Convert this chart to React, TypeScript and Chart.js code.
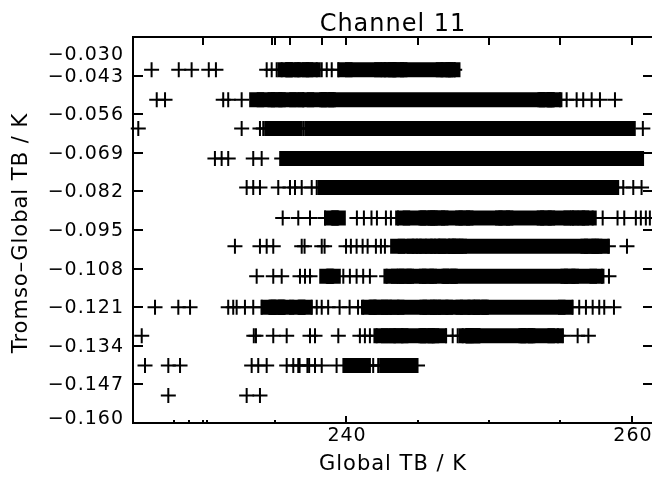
import React, { useEffect, useRef } from "react";
import { Chart, registerables } from "chart.js";

Chart.register(...registerables);

// Row levels (Tromso - Global TB, K)
const rowY = [-0.041, -0.0511, -0.0608, -0.0709, -0.0807, -0.091, -0.1005, -0.1106, -0.121, -0.1306, -0.1406, -0.1507];

// Individual measurements per row (Global TB, K)
const crosses01 = [226.4, 228.3, 229.2, 230.4, 230.9, 234.45, 234.8, 235.15, 235.5, 236.66, 237.95, 238.3, 238.65, 239.0, 239.46, 242.72, 247.6];
const crosses02 = [226.76, 227.34, 231.41, 231.76, 232.7, 236.66, 237.01, 254.96, 255.43, 256.13, 256.59, 257.18, 257.76, 258.81];
const crosses03 = [225.47, 232.7, 233.98, 234.21, 234.56, 235.61, 236.66, 237.01, 237.36, 239.81, 240.04, 260.76];
const crosses04 = [230.83, 231.3, 231.76, 233.51, 234.1, 235.5, 237.83];
const crosses05 = [233.05, 233.51, 233.98, 235.26, 236.08, 236.43, 236.9, 237.6, 237.95, 258.93, 259.39, 260.09, 260.67];
const crosses06 = [235.57, 236.66, 237.48, 238.53, 240.76, 241.25, 241.78, 242.16, 242.79, 243.14, 243.63, 255.87, 257.25, 257.95, 258.99, 259.46, 260.27, 260.62, 260.97, 261.25];
const crosses07 = [232.23, 233.98, 234.45, 234.91, 236.9, 237.1, 238.3, 238.5, 240.0, 240.34, 240.74, 241.16, 241.51, 242.09, 242.44, 242.72, 244.96, 246.22, 247.2, 258.35, 259.65];
const crosses08 = [233.75, 234.91, 235.5, 236.78, 237.13, 237.48, 239.81, 240.27, 240.74, 241.2, 241.67, 242.84, 257.9, 258.39];
const crosses09 = [226.64, 228.27, 229.09, 231.76, 232.11, 232.35, 232.93, 233.51, 234.1, 236.08, 236.31, 237.6, 237.95, 238.3, 238.75, 239.55, 240.25, 240.84, 241.2, 255.85, 256.31, 256.78, 257.25, 257.71, 258.06, 258.74];
const crosses10 = [225.71, 233.55, 233.7, 234.91, 235.85, 237.48, 237.83, 239.46, 240.97, 241.32, 241.67, 242.14, 247.0, 247.46, 247.81, 248.16, 254.82, 255.17, 256.2, 256.95];
const crosses11 = [225.94, 227.57, 228.39, 233.4, 233.86, 234.45, 235.85, 236.31, 236.66, 236.75, 237.3, 237.42, 237.83, 238.3, 239.34, 241.32, 241.67, 241.9, 242.25, 242.49, 242.72, 245.0];
const crosses12 = [227.57, 233.05, 233.98];

// Densely packed runs of measurements per row: [from, to] in K
const blocks01 = [[235.73, 236.31], [236.9, 237.71], [239.93, 242.49], [242.95, 243.54], [243.77, 246.8], [247.13, 247.48]];
const blocks02 = [[233.75, 235.03], [235.26, 236.55], [237.25, 238.65], [238.76, 253.91], [254.03, 254.61]];
const blocks03 = [[234.8, 235.26], [235.85, 236.43], [237.6, 238.18], [238.3, 239.65], [240.22, 245.4], [245.64, 259.74]];
const blocks04 = [[235.85, 236.31], [236.66, 237.48], [238.06, 239.6], [239.81, 259.74], [259.86, 260.32]];
const blocks05 = [[238.53, 239.23], [239.46, 240.16], [240.51, 241.2], [241.55, 242.02], [242.25, 242.84], [242.95, 252.74], [252.98, 258.58]];
const blocks06 = [[239.0, 239.46], [243.96, 245.59], [245.71, 246.41], [246.64, 248.16], [248.39, 250.95], [251.18, 253.86], [254.1, 255.73], [256.2, 257.01]];
const blocks07 = [[243.61, 244.77], [245.12, 246.06], [246.41, 246.99], [247.46, 247.69], [247.93, 256.92], [257.16, 257.93]];
const blocks08 = [[238.65, 239.11], [243.14, 244.07], [244.23, 245.62], [245.83, 247.2], [247.3, 255.52], [255.76, 257.55]];
const blocks09 = [[234.56, 235.15], [235.26, 235.73], [236.66, 237.13], [241.57, 242.16], [242.44, 243.21], [243.56, 245.66], [245.87, 246.64], [246.95, 248.18], [248.49, 249.37], [249.47, 255.35]];
const blocks10 = [[242.44, 243.49], [243.84, 245.59], [245.71, 246.52], [248.39, 248.86], [248.88, 252.58], [252.72, 254.61]];
const blocks11 = [[240.27, 241.09], [242.84, 243.89], [244.05, 244.47]];
const blocks12: number[][] = [];

// Axis ticks
const yTickValues = [-0.03, -0.043, -0.056, -0.069, -0.082, -0.095, -0.108, -0.121, -0.134, -0.147, -0.16];
const yTickLabels = ["−0.030", "−0.043", "−0.056", "−0.069", "−0.082", "−0.095", "−0.108", "−0.121", "−0.134", "−0.147", "−0.160"];
const xMajorTicks = [240, 260];
const xMajorLabels = ["240", "260"];
const xMinorTicks = [230, 235, 245, 250, 255];
const xBottomExtraTicks = [228.0, 229.0, 230.3];
const xTopExtraTicks = [234.8, 236.1, 238.3];

const titleText = "Channel 11";
const xTitleText = "Global TB / K";
const yTitleText = "Tromso–Global TB / K";

const FONT = "'DejaVu Sans', sans-serif";

const rows = [
  { y: rowY[0], crosses: crosses01, blocks: blocks01 },
  { y: rowY[1], crosses: crosses02, blocks: blocks02 },
  { y: rowY[2], crosses: crosses03, blocks: blocks03 },
  { y: rowY[3], crosses: crosses04, blocks: blocks04 },
  { y: rowY[4], crosses: crosses05, blocks: blocks05 },
  { y: rowY[5], crosses: crosses06, blocks: blocks06 },
  { y: rowY[6], crosses: crosses07, blocks: blocks07 },
  { y: rowY[7], crosses: crosses08, blocks: blocks08 },
  { y: rowY[8], crosses: crosses09, blocks: blocks09 },
  { y: rowY[9], crosses: crosses10, blocks: blocks10 },
  { y: rowY[10], crosses: crosses11, blocks: blocks11 },
  { y: rowY[11], crosses: crosses12, blocks: blocks12 },
];

const axesPlugin = {
  id: "idlAxes",
  beforeDraw(chart: any) {
    const ctx = chart.ctx;
    ctx.save();
    ctx.fillStyle = "#fff";
    ctx.fillRect(0, 0, chart.width, chart.height);
    ctx.restore();
  },
  afterDraw(chart: any) {
    const ctx = chart.ctx as CanvasRenderingContext2D;
    const { left, top, right, bottom } = chart.chartArea;
    const xs = chart.scales.x;
    const ys = chart.scales.y;
    ctx.save();
    ctx.strokeStyle = "#000";
    ctx.fillStyle = "#000";
    ctx.lineWidth = 2;
    ctx.beginPath();
    ctx.moveTo(left, top - 1);
    ctx.lineTo(left, bottom + 1);
    ctx.moveTo(left - 1, top);
    ctx.lineTo(right, top);
    ctx.moveTo(left - 1, bottom);
    ctx.lineTo(right, bottom);
    ctx.stroke();

    // y ticks (left and right sides)
    ctx.beginPath();
    yTickValues.forEach((v) => {
      const py = Math.round(ys.getPixelForValue(v));
      ctx.moveTo(left, py);
      ctx.lineTo(left + 10, py);
      ctx.moveTo(right - 9, py);
      ctx.lineTo(right, py);
    });
    // x ticks bottom
    xMajorTicks.forEach((v) => {
      const px = Math.round(xs.getPixelForValue(v));
      ctx.moveTo(px, bottom);
      ctx.lineTo(px, bottom - 7);
    });
    [...xMinorTicks, ...xBottomExtraTicks].forEach((v) => {
      const px = Math.round(xs.getPixelForValue(v));
      ctx.moveTo(px, bottom);
      ctx.lineTo(px, bottom - 3);
    });
    // x ticks top
    [...xMajorTicks, ...xMinorTicks, ...xTopExtraTicks].forEach((v) => {
      const px = Math.round(xs.getPixelForValue(v));
      ctx.moveTo(px, top);
      ctx.lineTo(px, top + 8);
    });
    ctx.stroke();

    // texts
    (ctx as any).letterSpacing = "1px";
    ctx.font = `19px ${FONT}`;
    ctx.textAlign = "right";
    ctx.textBaseline = "middle";
    yTickValues.forEach((v, i) => {
      let py = ys.getPixelForValue(v) + 1;
      if (i === 0) py = top + 18;
      if (i === yTickValues.length - 1) py = bottom - 4;
      ctx.fillText(yTickLabels[i], left - 9, py);
    });
    ctx.textAlign = "center";
    xMajorTicks.forEach((v, i) => {
      const px = xs.getPixelForValue(v);
      ctx.fillText(xMajorLabels[i], px + 1, bottom + 13);
    });
    ctx.font = `21px ${FONT}`;
    ctx.fillText(xTitleText, 393, bottom + 42);
    ctx.save();
    ctx.translate(22, 233);
    ctx.rotate(-Math.PI / 2);
    ctx.fillText(yTitleText, 0, 0);
    ctx.restore();
    ctx.font = `24px ${FONT}`;
    ctx.textBaseline = "alphabetic";
    ctx.fillText(titleText, 393, 31);
    ctx.restore();
  },
};

export default function App() {
  const canvasRef = useRef<HTMLCanvasElement | null>(null);

  useEffect(() => {
    if (!canvasRef.current) return;
    const crossData = rows.flatMap((r) => r.crosses.map((x) => ({ x, y: r.y })));
    const blockData: any[] = [];
    rows.forEach((r) => {
      r.blocks.forEach(([a, b]) => {
        blockData.push({ x: a, y: r.y });
        blockData.push({ x: b, y: r.y });
        blockData.push({ x: b, y: null });
      });
    });

    const chart = new Chart(canvasRef.current, {
      type: "scatter",
      data: {
        datasets: [
          {
            label: "measurements",
            data: crossData,
            showLine: false,
            clip: false,
          } as any,
          {
            label: "dense runs",
            data: blockData,
            showLine: true,
            spanGaps: false,
            borderColor: "#000",
            borderWidth: 15,
            borderCapStyle: "butt",
            tension: 0,
            clip: false,
          } as any,
        ],
      },
      options: {
        responsive: false,
        animation: false,
        events: [],
        devicePixelRatio: 1,
        layout: { autoPadding: false, padding: { left: 133, top: 37, right: 0, bottom: 58 } },
        elements: {
          point: {
            pointStyle: "cross",
            radius: 7.5,
            borderWidth: 2,
            borderColor: "#000",
            backgroundColor: "#000",
          },
        },
        plugins: {
          legend: { display: false },
          title: { display: false },
          tooltip: { enabled: false },
        },
        scales: {
          x: { type: "linear", min: 225.1, max: 261.4, display: false },
          y: { type: "linear", min: -0.16, max: -0.03, display: false },
        },
      },
      plugins: [axesPlugin],
    });
    return () => chart.destroy();
  }, []);

  return (
    <div style={{ position: "fixed", left: 0, top: 0, width: 652, height: 481, background: "#fff" }}>
      <canvas ref={canvasRef} width={652} height={481} style={{ display: "block" }} />
    </div>
  );
}
